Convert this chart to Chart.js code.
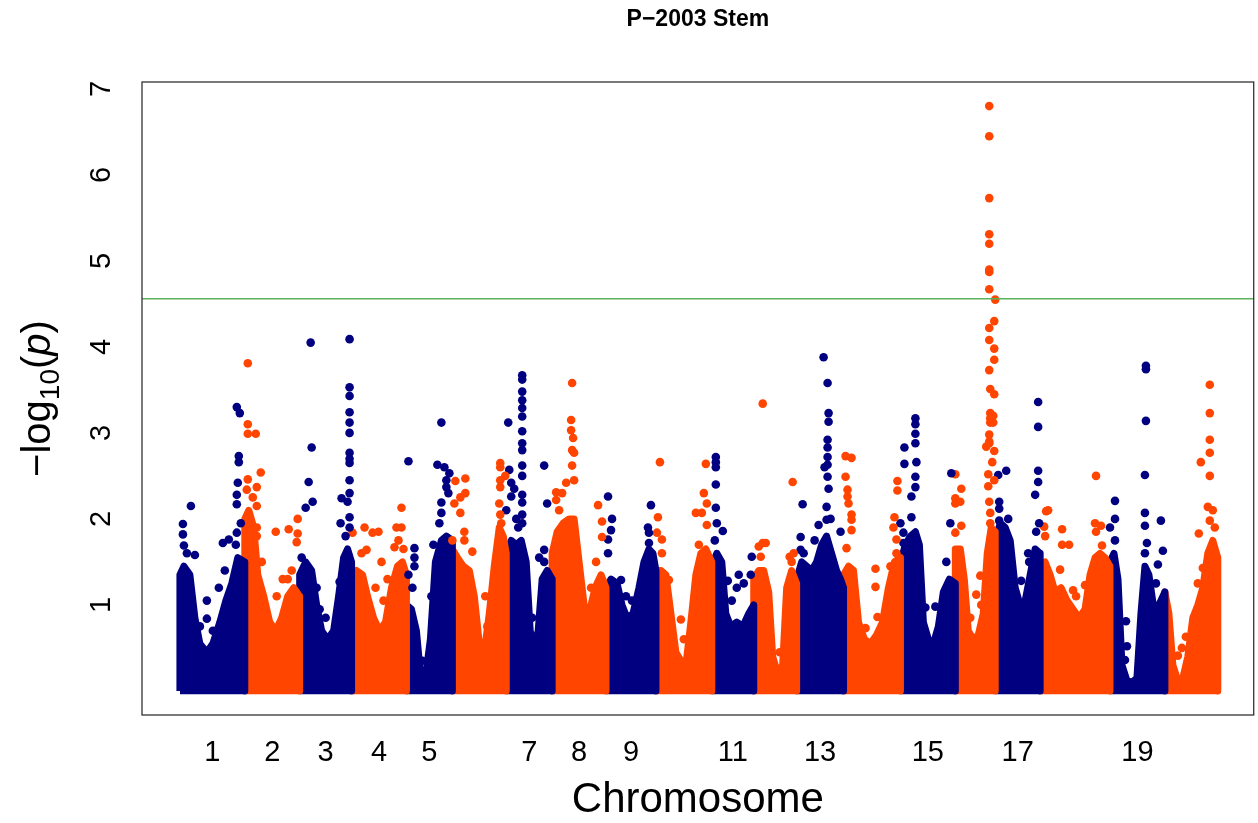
<!DOCTYPE html>
<html>
<head>
<meta charset="utf-8">
<title>P−2003 Stem</title>
<script src="https://cdn.jsdelivr.net/npm/chart.js@4.4.0/dist/chart.umd.min.js"></script>
<style>
  html, body { margin: 0; padding: 0; background: #fff; }
  #manhattan { display: block; }
</style>
</head>
<body>
<canvas id="manhattan" width="1258" height="823"></canvas>
<script>
// chromosome lengths (Mb), in plotting order
var chromLen = [32.5, 27.5, 26, 27.5, 23, 27, 23, 27, 25, 28, 21, 21.5, 23.5, 28.5, 27.5, 20, 22.5, 35, 27.5, 26.5];
// chromosomes that get a label under the axis
var chromShown = [1, 2, 3, 4, 5, 7, 8, 9, 11, 13, 15, 17, 19];
var yTicks = [1, 2, 3, 4, 5, 6, 7];
var threshold = 4.56;

// upper edge of the dense SNP cloud per chromosome: [position Mb, -log10 p]
var cloudTop = [
  [[0,1.35],[2,1.45],[5,1.35],[7.5,0.85],[10,0.55],[13.5,0.45],[16.5,0.55],[20,0.8],[23,1.05],[26,1.25],[29,1.55],[32.5,1.5]],
  [[0,2.0],[2,2.1],[4.5,1.9],[6.5,1.35],[9.5,1.1],[12.5,0.8],[15.5,0.7],[18.5,0.85],[21.5,1.1],[24.5,1.2],[27.5,1.1]],
  [[0,1.35],[3,1.5],[6,1.4],[8.5,1.0],[11,0.7],[14,0.6],[17,0.7],[19.5,1.1],[22,1.55],[24,1.65],[26,1.5]],
  [[0,1.3],[2.5,1.4],[5.5,1.35],[8,1.1],[11,0.85],[14,0.7],[17,0.8],[20,1.2],[23,1.45],[25.5,1.5],[27.5,1.35]],
  [[0,1.0],[2.5,0.95],[5,0.7],[7,0.2],[9.5,0.15],[12,0.6],[14.5,1.5],[17.5,1.75],[20,1.8],[23,1.75]],
  [[0,1.65],[2.5,1.55],[5.5,1.45],[8.5,1.4],[11,1.1],[13.5,0.55],[16,0.45],[18.5,0.9],[21,1.45],[23.5,1.9],[25.5,1.8],[27,1.6]],
  [[0,1.6],[2.5,1.75],[5,1.7],[7.5,1.75],[10,1.5],[12,0.7],[14,0.5],[16,0.7],[18,1.3],[20.5,1.4],[23,1.3]],
  [[0,1.6],[2.5,1.85],[5.5,1.95],[8.5,2.0],[11,2.0],[13.5,1.5],[16,1.0],[18.5,0.9],[21.5,1.2],[24.5,1.35],[27,1.2]],
  [[0,1.2],[2.5,1.3],[5.5,1.25],[8,1.0],[10.5,0.85],[13.5,0.9],[16.5,1.2],[19,1.5],[21.5,1.65],[23.5,1.6],[25,1.4]],
  [[0,1.4],[2.5,1.4],[5,1.35],[7.5,0.9],[10,0.45],[12.5,0.35],[15,0.3],[17.5,0.8],[20,1.35],[22.5,1.6],[25,1.65],[28,1.5]],
  [[0,1.45],[2.5,1.6],[5,1.5],[7,0.9],[9.5,0.75],[12.5,0.8],[15.5,0.75],[18.5,0.9],[21,1.0]],
  [[0,1.3],[2.5,1.4],[5,1.4],[7.5,1.15],[9.5,0.4],[12,0.2],[14.5,0.3],[16.5,1.2],[19,1.4],[21.5,1.25]],
  [[0,1.3],[2.5,1.5],[5,1.45],[7.5,1.4],[10,1.5],[12.5,1.7],[15,1.8],[17.5,1.6],[20,1.4],[22,1.3],[23.5,1.2]],
  [[0,1.35],[2.5,1.45],[5,1.4],[7.5,0.8],[10.5,0.6],[13.5,0.55],[16.5,0.65],[19.5,0.8],[22.5,1.2],[25.5,1.5],[28.5,1.55]],
  [[0,1.5],[2.5,1.7],[5,1.8],[7.5,1.85],[9.5,1.7],[11.5,0.8],[14,0.6],[16.5,0.55],[19,0.75],[21.5,1.15],[24.5,1.3],[27.5,1.25]],
  [[0,1.65],[2.5,1.65],[4.5,1.3],[6.5,0.7],[9,0.6],[11.5,0.65],[14,0.9],[16,1.6],[18,1.9],[20,1.85]],
  [[0,1.75],[2.5,1.95],[5,1.9],[7.5,1.75],[10,1.2],[12.5,1.0],[15,1.05],[17.5,1.35],[20,1.65],[22.5,1.6]],
  [[0,1.45],[2.5,1.5],[5,1.35],[7.5,1.15],[10.5,1.2],[13.5,1.05],[16.5,0.95],[19.5,0.85],[22.5,0.95],[25,1.35],[27.5,1.55],[30,1.6],[32.5,1.55],[35,1.45]],
  [[0,1.5],[2,1.6],[4,1.3],[6,0.3],[8.5,0.12],[11,0.1],[13.5,0.15],[15.5,0.9],[17.5,1.45],[19.5,1.35],[22,0.95],[24.5,1.0],[27.5,1.15]],
  [[0,1.15],[2,0.9],[4,0.3],[6.5,0.12],[9,0.15],[11.5,0.4],[14,0.85],[16.5,1.0],[19,1.2],[21.5,1.6],[24,1.75],[26.5,1.55]]
];

// SNPs standing out above the cloud: [position Mb, -log10 p]
var snps = [
  [[1.5,1.94],[1.5,1.82],[2,1.69],[5.5,2.15],[7.5,1.58],[3.5,1.6],[13.5,1.05],[13.5,0.84],[10,0.75],[16.5,0.7],[21.5,1.72],[24.5,1.76],[22.5,1.4],[19.5,1.2],[28.5,1.84],[28.5,2.28],[28.5,2.17],[29,2.42],[29.5,2.73],[29.5,2.66],[28.5,3.30],[30,3.23],[28,1.7],[30.5,1.95]],
  [[1.5,3.81],[1.5,3.1],[1.5,2.99],[5.5,2.99],[1.5,2.46],[1,2.34],[8,2.54],[6,2.37],[6,2.15],[6,1.9],[6,1.8],[4,2.25],[15.5,1.85],[22,1.88],[26.5,2.0],[26,1.73],[26.5,1.83],[21.5,1.3],[23.5,1.4],[16,1.1],[8.5,1.5],[19,1.3]],
  [[5.5,4.05],[6,2.83],[4.5,2.43],[3,2.13],[6.5,2.2],[1,1.55],[10,0.95],[13,0.85],[20,1.27],[8.5,1.2],[25,4.09],[25,3.53],[25,3.43],[25,3.24],[25,3.12],[25,3.0],[25,2.77],[25,2.7],[25,2.65],[25,2.45],[25,2.3],[25,2.02],[25,1.9],[21,2.24],[20.5,1.95],[24,2.2],[23,1.8]],
  [[0.5,1.84],[6.5,1.9],[10.5,1.84],[13.5,1.85],[7.5,1.64],[5,1.6],[15,1.5],[12,1.2],[16,1.05],[25,2.13],[22.5,1.9],[25,1.9],[21.5,1.67],[26,1.65],[23.5,1.75],[18,1.3]],
  [[1,2.67],[4,1.66],[4,1.55],[4,1.45],[1,1.35],[3,1.2],[8,0.35],[17.5,3.12],[15.5,2.63],[19,2.6],[21.5,2.53],[20,2.45],[17.5,2.19],[17.5,2.07],[20,2.37],[21,2.3],[16.5,1.95],[13.5,1.7],[12.5,1.1]],
  [[1.5,2.44],[6.5,2.47],[1,2.18],[4,2.25],[6.5,2.3],[4,2.07],[0,1.75],[6,1.85],[6,1.75],[10,1.62],[16.5,1.1],[17.5,0.75],[24,2.65],[24,2.6],[26.5,2.5],[24,2.45],[24,2.37],[23.5,2.18],[24,2.05],[24.5,1.95]],
  [[8,3.67],[8,3.62],[8,3.48],[8,3.38],[8,3.29],[8,3.19],[8,3.02],[8,2.88],[8,2.8],[8,2.62],[8,2.5],[8,2.28],[8,2.19],[8,2.05],[8,1.95],[1,3.12],[1.5,2.57],[2.5,2.42],[2.5,2.26],[4,2.35],[0,2.1],[5,2.0],[6,1.9],[13,0.85],[19,2.62],[20.5,2.18],[19,1.64],[19,1.5],[16.5,1.55]],
  [[10,3.58],[9.5,3.15],[9.5,3.03],[10.5,2.94],[10,2.8],[11,2.77],[10,2.62],[7,2.42],[11,2.45],[2,2.31],[2,2.22],[5,2.3],[3.5,2.1],[23,2.16],[25,1.97],[25,1.79],[22,1.5],[19.5,1.2]],
  [[1,2.26],[3,2.0],[2.5,1.87],[1,1.76],[1,1.6],[7.5,1.29],[10,1.1],[13,1.05],[22.5,2.16],[21,1.9],[21.5,1.84],[21.5,1.72]],
  [[2,2.66],[1,2.02],[0.5,1.84],[3,1.76],[3,1.6],[6.5,1.29],[12.5,0.83],[14,0.6],[25,2.64],[24,2.3],[25.5,2.18],[20,2.07],[23,2.07],[25.5,1.93],[21.5,1.7]],
  [[2,2.72],[2,2.66],[2,2.6],[2,2.4],[2,2.13],[2.5,1.95],[5.5,1.86],[1.5,1.75],[8,1.28],[13.5,1.35],[12.5,1.2],[20,1.56],[19.5,1.35],[10,1.05],[16,1.25]],
  [[4.5,3.34],[4.5,1.72],[2.5,1.68],[6,1.72],[3.5,1.56],[19.5,2.43],[18,1.56],[19,1.5],[20,1.6],[13,0.45]],
  [[3,2.17],[2,1.79],[2,1.64],[3.5,1.6],[11,1.93],[9,1.75],[13.5,3.88],[15.5,3.58],[16,3.23],[16,3.13],[15.5,2.92],[15.5,2.83],[15.5,2.72],[15.5,2.63],[15.5,2.49],[16,2.35],[15,2.14],[15,1.99],[22,1.85],[14,2.6],[17,2.0]],
  [[1,2.73],[4,2.71],[1,2.49],[2,2.34],[2,2.26],[2.5,2.18],[4,2.05],[4,1.99],[4,1.87],[1.5,1.66],[11,0.73],[16,1.42],[16,1.21],[17,0.86],[27,2.44],[27,2.33],[25.5,2.02],[25,1.9],[26.5,1.76],[26.5,1.6],[23.5,1.45]],
  [[7.5,3.17],[7.5,3.10],[7.5,2.99],[7.5,2.88],[8,2.66],[7.5,2.49],[7.5,2.37],[2,2.83],[2,2.64],[0,1.95],[1.5,1.84],[1.5,1.72],[5.5,2.26],[5.5,2.02],[12.5,0.97],[17.5,0.98],[25.5,2.53],[25,1.95],[23,1.5]],
  [[0,2.52],[0,2.24],[0,2.18],[3,2.35],[2.5,2.2],[3,1.92],[0,1.84],[12.5,1.34],[10.5,1.12],[7.5,0.85],[13,1.0],[17,6.80],[17,6.45],[17,5.73],[17,5.31],[17,5.20],[17,4.90],[17,4.87],[17,4.67],[20,4.55],[19.5,4.30],[17,4.22],[17,4.08],[19.5,3.98],[19.5,3.85],[17,3.73],[17.5,3.51],[19.5,3.45],[17.5,3.23],[17.5,3.17],[17.5,3.12],[19,3.2],[19,3.12],[17,2.98],[17,2.9],[17,2.88],[15.5,2.84],[19.5,2.79],[18.5,2.66],[16.5,2.52],[16.5,2.38],[19.5,2.45],[17.5,2.07],[17.5,1.95],[17,2.2]],
  [[1.5,2.51],[5.5,2.56],[2,2.2],[2,2.12],[2,1.98],[6.5,2.0],[13,1.28],[16.5,1.6],[17,1.5],[21.5,3.36],[21.5,3.07],[21.5,2.56],[21.5,2.43],[20,2.28],[22,1.95],[20.5,1.85]],
  [[3,2.09],[4,2.1],[2,1.91],[2.5,1.8],[11,1.88],[11,1.7],[14.5,1.7],[10,1.41],[16.5,1.17],[18,1.1],[22.5,1.23],[28,2.5],[27.5,1.95],[30.5,1.92],[28,1.85],[31,1.69]],
  [[2.5,2.21],[2.5,2.0],[0,1.9],[2.5,1.75],[8,0.81],[8.5,0.52],[7.5,0.36],[18,3.78],[18,3.74],[18,3.14],[17.5,2.51],[17.5,2.07],[17.5,1.92],[18.5,1.72],[17.5,1.6],[25.5,1.98],[24,1.47],[26.5,1.63],[23,1.25]],
  [[22.5,3.56],[22.5,3.23],[22.5,2.92],[22.5,2.77],[22.5,2.5],[18,2.66],[21.5,2.14],[24,2.1],[22.5,1.98],[17,1.83],[19,1.43],[16.5,1.25],[6.5,0.41],[10.5,0.63],[8.5,0.5],[25,1.9]]
];

var colors = ['#000080', '#ff4500'];
var fontFamily = "'Liberation Sans', Arial, Helvetica, sans-serif";

// cumulative start of each chromosome along the genome axis
var offsets = [];
var total = 0;
chromLen.forEach(function (len) {
  offsets.push(total);
  total += len;
});

function toGenome(pts, i) {
  return pts.map(function (p) { return { x: offsets[i] + p[0], y: p[1] }; });
}

// close the cloud outline down to the baseline so the stroke rounds its sides too
function cloudOutline(pts, i) {
  var line = toGenome(pts, i);
  line.unshift({ x: line[0].x, y: 0 });
  line.push({ x: line[line.length - 1].x, y: 0 });
  return line;
}

var datasets = [];
cloudTop.forEach(function (pts, i) {
  var col = colors[i % 2];
  datasets.push({
    type: 'line',
    data: cloudOutline(pts, i),
    borderColor: col,
    backgroundColor: col,
    borderWidth: 7,
    borderJoinStyle: 'round',
    borderCapStyle: 'butt',
    pointRadius: 0,
    tension: 0,
    fill: { value: -0.04 },
    order: 2
  });
});
snps.forEach(function (pts, i) {
  var col = colors[i % 2];
  datasets.push({
    type: 'scatter',
    data: toGenome(pts, i),
    backgroundColor: col,
    pointBorderWidth: 0,
    pointRadius: 4.3,
    order: 1
  });
});

var whiteBg = {
  id: 'whiteBg',
  beforeDraw: function (chart) {
    var ctx = chart.ctx;
    ctx.save();
    ctx.fillStyle = '#fff';
    ctx.fillRect(0, 0, chart.width, chart.height);
    ctx.restore();
  }
};

// genome-wide significance line
var thresholdLine = {
  id: 'thresholdLine',
  afterDatasetsDraw: function (chart) {
    var ctx = chart.ctx, area = chart.chartArea;
    var y = chart.scales.y.getPixelForValue(threshold);
    ctx.save();
    ctx.strokeStyle = 'rgb(90,178,90)';
    ctx.lineWidth = 1.6;
    ctx.beginPath();
    ctx.moveTo(area.left, y);
    ctx.lineTo(area.right, y);
    ctx.stroke();
    ctx.restore();
  }
};

// box, axis labels and titles in base-graphics style
var axesText = {
  id: 'axesText',
  afterDraw: function (chart) {
    var ctx = chart.ctx, area = chart.chartArea;
    var xs = chart.scales.x, ys = chart.scales.y;
    var midX = (area.left + area.right) / 2;
    var midY = (area.top + area.bottom) / 2;
    ctx.save();

    ctx.strokeStyle = '#333';
    ctx.lineWidth = 1.3;
    ctx.strokeRect(area.left, area.top, area.right - area.left, area.bottom - area.top);

    ctx.fillStyle = '#000';
    ctx.textBaseline = 'alphabetic';

    ctx.font = 'bold 23px ' + fontFamily;
    ctx.textAlign = 'center';
    ctx.fillText('P\u22122003 Stem', midX, 26);

    ctx.font = '29px ' + fontFamily;
    chromShown.forEach(function (c) {
      var mid = offsets[c - 1] + chromLen[c - 1] / 2;
      ctx.fillText(String(c), xs.getPixelForValue(mid), 761);
    });

    ctx.font = '42px ' + fontFamily;
    ctx.fillText('Chromosome', midX, 812);

    yTicks.forEach(function (v) {
      ctx.save();
      ctx.translate(110, ys.getPixelForValue(v));
      ctx.rotate(-Math.PI / 2);
      ctx.font = '29px ' + fontFamily;
      ctx.textAlign = 'center';
      ctx.fillText(String(v), 0, 0);
      ctx.restore();
    });

    // -log10(p) with subscript and italic p
    var parts = [
      { t: '\u2212log', f: '40px ' + fontFamily, dy: 0 },
      { t: '10', f: '28px ' + fontFamily, dy: 9 },
      { t: '(', f: '40px ' + fontFamily, dy: 0 },
      { t: 'p', f: 'italic 40px ' + fontFamily, dy: 0 },
      { t: ')', f: '40px ' + fontFamily, dy: 0 }
    ];
    var width = 0;
    parts.forEach(function (p) { ctx.font = p.f; p.w = ctx.measureText(p.t).width; width += p.w; });
    ctx.translate(50, midY);
    ctx.rotate(-Math.PI / 2);
    ctx.textAlign = 'left';
    var cx = -width / 2;
    parts.forEach(function (p) {
      ctx.font = p.f;
      ctx.fillText(p.t, cx, p.dy);
      cx += p.w;
    });
    ctx.restore();
  }
};

new Chart(document.getElementById('manhattan'), {
  type: 'scatter',
  data: { datasets: datasets },
  options: {
    responsive: false,
    animation: false,
    devicePixelRatio: 1,
    layout: { padding: { left: 142, top: 82, right: 2, bottom: 108 } },
    plugins: { legend: { display: false }, tooltip: { enabled: false } },
    scales: {
      x: { type: 'linear', display: false, min: -19, max: 538 },
      y: { type: 'linear', display: false, min: -0.28, max: 7.08 }
    }
  },
  plugins: [whiteBg, thresholdLine, axesText]
});
</script>
</body>
</html>
